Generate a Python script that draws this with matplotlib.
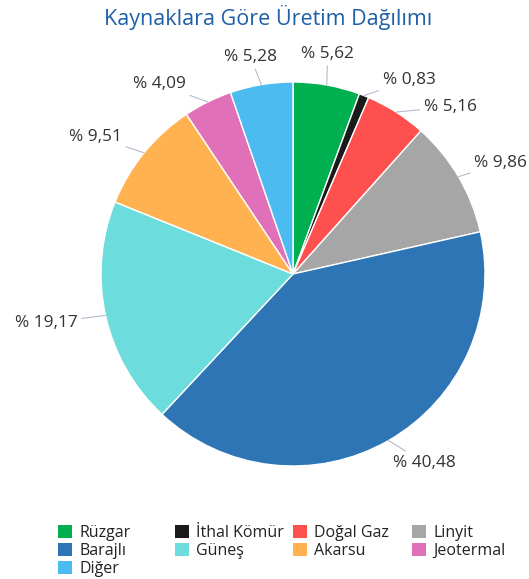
import numpy as np
import matplotlib.pyplot as plt
from matplotlib.patches import Patch

plt.rcParams['font.family'] = ['Open Sans', 'DejaVu Sans']

# data (clockwise from 12 o'clock)
sources = ['Rüzgar', 'İthal Kömür', 'Doğal Gaz', 'Linyit', 'Barajlı',
           'Güneş', 'Akarsu', 'Jeotermal', 'Diğer']
shares = [5.62, 0.83, 5.16, 9.86, 40.48, 19.17, 9.51, 4.09, 5.28]
colors = ['#00b050', '#1a1a1a', '#ff5050', '#a6a6a6', '#2e75b6',
          '#6cdcdc', '#ffb24f', '#e070b8', '#4cbcf0']

# small label nudges (pixels, x right / y down) to mimic the original label layout
nudge = [(-4, -3), (8, 11), (12, 19), (-9, 1), (-10, -3), (0, 1), (0, 2), (-9, 8), (-6, 1)]

W, H = 529, 579
fig = plt.figure(figsize=(W / 100, H / 100), dpi=100)
cx, cy, R = 293, 274, 192
ax = fig.add_axes([(cx - R) / W, (H - cy - R) / H, 2 * R / W, 2 * R / H])

wedges, _ = ax.pie(shares, colors=colors, startangle=90, counterclock=False,
                   wedgeprops=dict(edgecolor='white', linewidth=1))
ax.set_xlim(-1, 1)
ax.set_ylim(-1, 1)
ax.set_aspect('equal')

for w, v, (nx, ny) in zip(wedges, shares, nudge):
    ang = np.deg2rad((w.theta1 + w.theta2) / 2)
    c, s = np.cos(ang), np.sin(ang)
    if abs(c) < 0.3:
        ha = 'center'
    elif c > 0:
        ha = 'left'
    else:
        ha = 'right'
    r = 1.15
    txt = '% ' + f'{v:.2f}'.replace('.', ',')
    ax.annotate(txt, xy=(c, s), xytext=(r * c + nx / R, r * s - ny / R),
                ha=ha, va='center', fontsize=12.4, color='#333333',
                annotation_clip=False,
                arrowprops=dict(arrowstyle='-', color='#b4bccb', lw=0.8,
                                shrinkA=1, shrinkB=0))

fig.text(268 / W, 1 - 18 / H, 'Kaynaklara Göre Üretim Dağılımı', ha='center', va='center',
         fontsize=15.5, color='#1f5fa8')

# legend: 4 columns, row-major order
columns = [[0, 4, 8], [1, 5], [2, 6], [3, 7]]
col_x = [58, 175, 293, 412]
for idx, x0 in zip(columns, col_x):
    handles = [Patch(facecolor=colors[i], label=sources[i]) for i in idx]
    leg = fig.legend(handles=handles, loc='upper left', bbox_to_anchor=(x0 / W, 1 - 525 / H),
                     frameon=False, fontsize=11.5, handlelength=0.88, handleheight=0.88,
                     handletextpad=0.45, labelspacing=0.12, borderpad=0,
                     borderaxespad=0, labelcolor='#222222')

fig.savefig('out.png', dpi=100)
